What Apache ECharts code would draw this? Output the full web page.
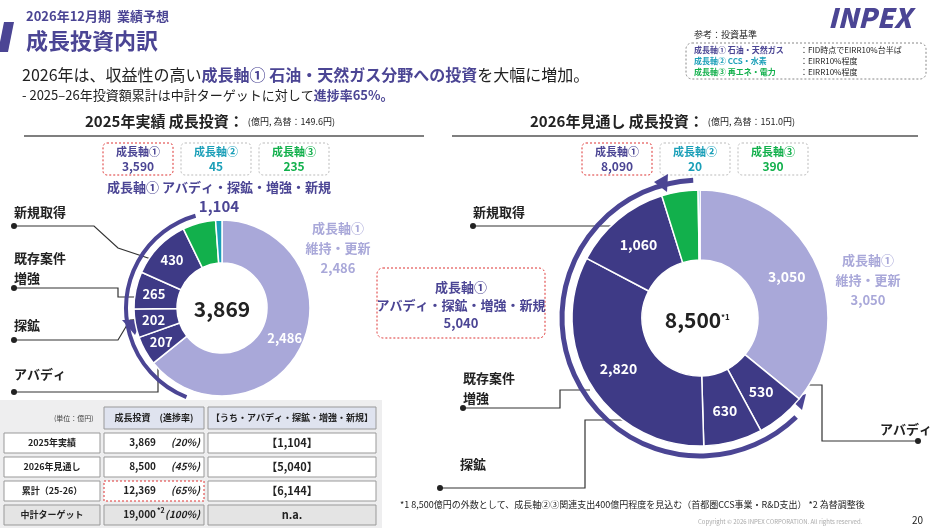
<!DOCTYPE html>
<html><head><meta charset="utf-8">
<script src="https://cdn.jsdelivr.net/npm/echarts@6/dist/echarts.min.js"></script>
<style>html,body{margin:0;padding:0;background:#fff}#c{width:934px;height:528px}</style>
</head><body><div id="c"></div>
<script>
const slices2025 = ['維持・更新','アバディ','探鉱','増強','新規取得','成長軸③','成長軸②'];
const values2025 = [2486, 207, 202, 265, 430, 235, 45];
const slices2026 = ['維持・更新','アバディ','探鉱','増強','新規取得','成長軸③','成長軸②'];
const values2026 = [3050, 530, 630, 2820, 1060, 390, 20];
const axes2025 = ['3,590','45','235'];
const axes2026 = ['8,090','20','390'];
const tableRows = [
  ['2025年実績','3,869','(20%)','【1,104】'],
  ['2026年見通し','8,500','(45%)','【5,040】'],
  ['累計（25-26）','12,369','(65%)','【6,144】'],
  ['中計ターゲット','19,000','(100%)','n.a.']
];
const LIGHT='#a9a8d9', DARK='#3e3a86', GREEN='#12b04c', TEAL='#1a9fb8', PURP='#4b4594';
const F='"Noto Sans CJK JP","Noto Sans",sans-serif';
const colors=[LIGHT,DARK,DARK,DARK,DARK,GREEN,TEAL];
function pieData(v){return v.map((x,i)=>({value:x,itemStyle:{color:colors[i]}}));}
const g=[];
function T(x,y,t,o){g.push(Object.assign({type:'text',x,y,style:Object.assign({text:t,fill:'#222',font:'bold 13px '+F},o||{})}));}
function R(x,y,w,h,s){g.push({type:'rect',shape:{x,y,width:w,height:h,r:s.r||0},style:s});}
function L(pts,s){g.push({type:'polyline',shape:{points:pts},style:Object.assign({stroke:'#333',lineWidth:1.2,fill:null},s||{})});}
function dot(x,y){g.push({type:'circle',shape:{cx:x,cy:y,r:3},style:{fill:'#222'}});}
// header
g.push({type:'polygon',shape:{points:[[4,22],[14,22],[8,52],[-2,52]]},style:{fill:'#4b4594'}});
T(26,10,'2026年12月期  業績予想',{fill:PURP,font:'bold 13px '+F});
T(26,30,'成長投資内訳',{fill:PURP,font:'bold 22px '+F});
g.push({type:'text',x:22,y:67,style:{rich:{a:{font:'16px '+F,fill:'#222'},b:{font:'bold 16px '+F,fill:PURP}},text:'{a|2026年は、収益性の高い}{b|成長軸① 石油・天然ガス分野への投資}{a|を大幅に増加。}'}});
g.push({type:'text',x:22,y:89,style:{rich:{a:{font:'13px '+F,fill:'#222'},b:{font:'bold 13px '+F,fill:PURP}},text:'{a|- 2025–26年投資額累計は中計ターゲットに対して}{b|進捗率65%。}'}});
T(828,4,'INPEX',{fill:PURP,font:'italic 900 27px '+F});
T(694,30,'参考：投資基準',{font:'9px '+F});
R(686,43,240,36,{fill:'#fff',stroke:'#888',lineWidth:1,lineDash:[2,2],r:6});
[['成長軸① 石油・天然ガス',PURP,'：FID時点でEIRR10%台半ば'],['成長軸② CCS・水素',TEAL,'：EIRR10%程度'],['成長軸③ 再エネ・電力',GREEN,'：EIRR10%程度']].forEach((r,i)=>{T(694,46+i*11,r[0],{fill:r[1],font:'bold 8px '+F});T(800,46+i*11,r[2],{font:'8px '+F});});
// section titles
g.push({type:'text',x:85,y:114,style:{rich:{a:{font:'bold 15px '+F,fill:'#222'},b:{font:'9px '+F,fill:'#222'}},text:'{a|2025年実績 成長投資：}{b|  (億円, 為替：149.6円)}'}});
g.push({type:'text',x:530,y:114,style:{rich:{a:{font:'bold 15px '+F,fill:'#222'},b:{font:'9px '+F,fill:'#222'}},text:'{a|2026年見通し 成長投資：}{b|  (億円, 為替：151.0円)}'}});
L([[24,136],[424,136]],{stroke:'#555',lineWidth:1.5});L([[452,136],[918,136]],{stroke:'#555',lineWidth:1.5});
function boxes(x0,vals){const lab=['成長軸①','成長軸②','成長軸③'],col=[PURP,TEAL,GREEN];
 vals.forEach((v,i)=>{const x=x0+i*78;R(x,143,70,32,{fill:'#fff',stroke:i==0?'#d33':'#bbb',lineWidth:1,lineDash:[2,2],r:4});
 T(x+35,146,lab[i],{fill:col[i],font:'bold 11px '+F,align:'center'});T(x+35,160,v,{fill:col[i],font:'bold 12px '+F,align:'center'});});}
boxes(103,axes2025);boxes(582,axes2026);
// left labels
T(219,181,'成長軸① アバディ・探鉱・増強・新規',{fill:PURP,align:'center'});
T(219,199,'1,104',{fill:PURP,align:'center',font:'bold 15px '+F});
T(338,218,'成長軸①\n維持・更新\n2,486',{fill:LIGHT,align:'center',font:'bold 13px '+F,lineHeight:20});
T(222,309,'3,869',{align:'center',verticalAlign:'middle',font:'bold 21px '+F});
T(14,206,'新規取得');T(14,248,'既存案件\n増強',{lineHeight:20});T(14,319,'探鉱');T(14,368,'アバディ');
L([[14,226],[94,226],[118,248],[160,262]]);L([[14,288],[118,288],[118,297],[155,297]]);L([[14,340],[118,340],[130,320],[160,318]]);L([[14,392],[158,392],[158,345]]);
dot(14,226);dot(14,288);dot(14,340);dot(14,392);
// right labels
T(473,206,'新規取得');T(463,368,'既存案件\n増強',{lineHeight:20});T(460,458,'探鉱');T(880,423,'アバディ');
T(693,320,'8,500',{align:'center',verticalAlign:'middle',font:'bold 21px '+F});T(721,313,'*1',{font:'bold 8px '+F});
T(868,250,'成長軸①\n維持・更新\n3,050',{fill:LIGHT,align:'center',font:'bold 13px '+F,lineHeight:20});
R(377,268,168,70,{fill:'#fff',stroke:'#d33',lineWidth:1,lineDash:[2,2],r:6});
T(461,278,'成長軸①\nアバディ・探鉱・増強・新規\n5,040',{fill:PURP,align:'center',lineHeight:18});
L([[473,226],[615,226]]);L([[463,408],[560,408],[560,390],[590,390]]);L([[440,488],[585,488],[585,420],[645,420]]);L([[775,385],[822,385],[822,441],[918,441]]);
dot(473,226);dot(463,408);dot(440,488);dot(918,441);
// arrows
g.push({type:'arc',shape:{cx:222,cy:308,r:96,startAngle:-1.85,endAngle:1.95,clockwise:false},style:{stroke:PURP,lineWidth:4,fill:null}});
g.push({type:'polygon',shape:{points:[[135,335],[122,320],[142,320]]},style:{fill:PURP}});
g.push({type:'arc',shape:{cx:700,cy:318,r:138,startAngle:-1.62,endAngle:0.8,clockwise:false},style:{stroke:PURP,lineWidth:5,fill:null}});
g.push({type:'polygon',shape:{points:[[654,182],[668,174],[667,192]]},style:{fill:PURP}});
g.push({type:'polygon',shape:{points:[[802,410],[806,394],[790,399]]},style:{fill:PURP}});
// table
R(0,400,382,128,{fill:'#eeeeef'});
T(54,415,'(単位：億円)',{font:'7px '+F,fill:'#444'});
R(104,407,100,22,{fill:'#dfe3ef',stroke:'#999'});T(154,413,'成長投資　(進捗率)',{align:'center',font:'bold 9px '+F});
R(208,407,168,22,{fill:'#dfe3ef',stroke:'#999'});T(292,413,'【うち・アバディ・探鉱・増強・新規】',{align:'center',font:'bold 9px '+F});
tableRows.forEach((r,i)=>{const y=433+i*24;const last=i==3;
 R(4,y,96,20,{fill:last?'#e4e4e4':'#fff',stroke:'#999'});T(52,y+5,r[0],{align:'center',font:'bold 9px '+F});
 R(104,y,100,20,{fill:last?'#e4e4e4':'#fff',stroke:i==2?'#d33':'#999',lineDash:i==2?[2,2]:null});
 T(156,y+4,r[1],{align:'right',font:'bold 10px '+F});if(last)T(157,y+2,'*2',{font:'bold 7px '+F});
 T(200,y+4,r[2],{align:'right',font:'italic bold 10px '+F});
 R(208,y,168,20,{fill:last?'#e4e4e4':'#fff',stroke:'#999'});T(292,y+4,r[3],{align:'center',font:'bold 11px '+F});});
T(400,500,'*1 8,500億円の外数として、成長軸②③関連支出400億円程度を見込む（首都圏CCS事業・R&D支出） *2 為替調整後',{font:'9px '+F});
T(698,519,'Copyright © 2026 INPEX CORPORATION. All rights reserved.',{font:'6px '+F,fill:'#aaa'});
T(912,515,'20',{font:'10px '+F});
const lbl=(s)=>({show:true,position:'inside',color:'#fff',fontWeight:'bold',fontSize:s,fontFamily:F,formatter:p=>p.dataIndex>=5?'':p.value.toLocaleString('en-US')});
const chart=echarts.init(document.getElementById('c'));
chart.setOption({animation:false,series:[
 {type:'pie',center:[222,308],radius:[45,88],startAngle:90,clockwise:true,data:pieData(values2025),label:lbl(13),labelLine:{show:false},itemStyle:{borderColor:'#fff',borderWidth:1.5},silent:true},
 {type:'pie',center:[700,318],radius:[58,128],startAngle:90,clockwise:true,data:pieData(values2026),label:lbl(14),labelLine:{show:false},itemStyle:{borderColor:'#fff',borderWidth:1.5},silent:true}
],graphic:{elements:g}});
</script></body></html>
